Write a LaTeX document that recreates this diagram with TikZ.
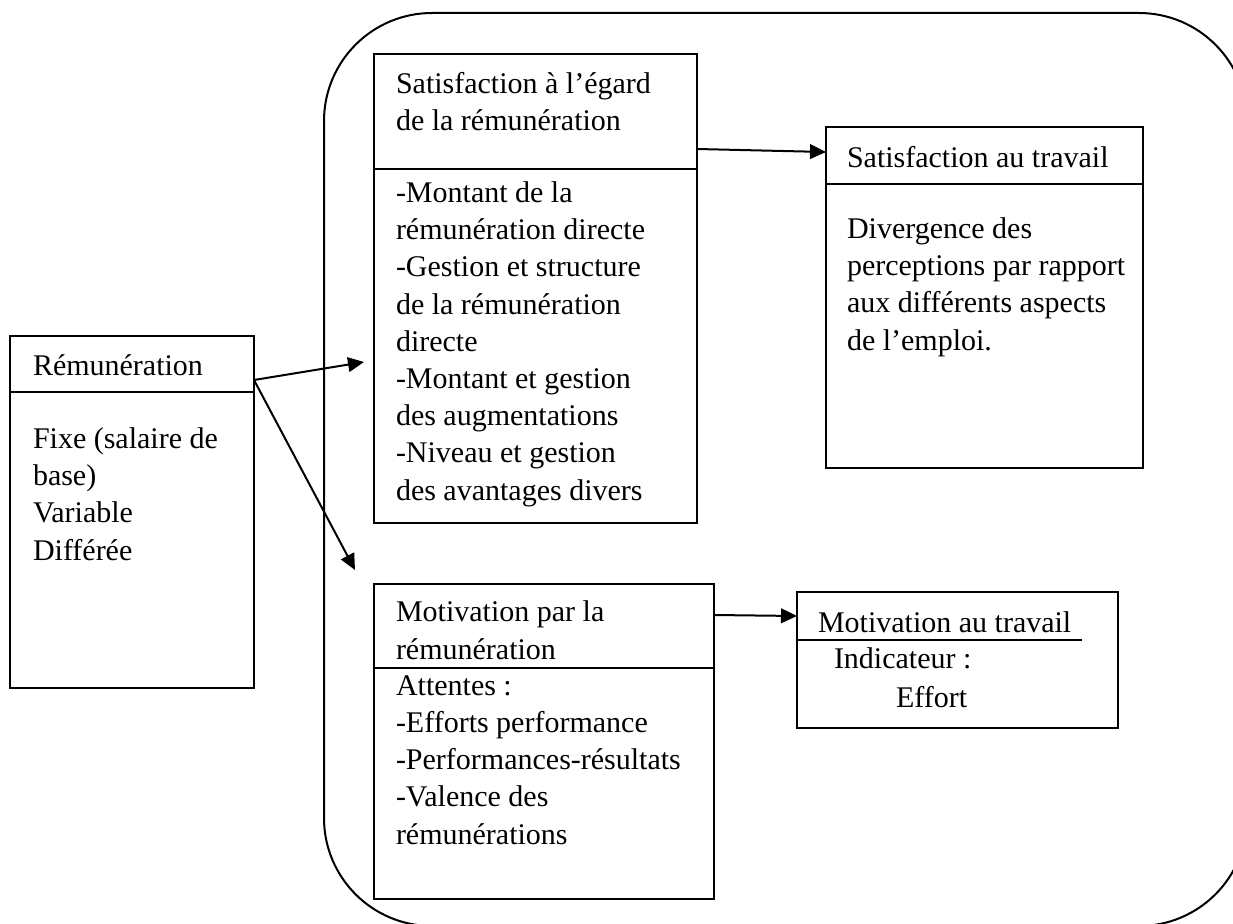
\documentclass[tikz,border=0pt]{standalone}
\usepackage{fontspec}
\setmainfont{Liberation Serif}
\usetikzlibrary{arrows.meta,fit}
\begin{document}
\begin{tikzpicture}[x=0.75pt,y=-0.75pt,
  line width=1.5pt,
  box/.style={draw, inner sep=0pt},
  % multi-line texts are placed by the baseline of their last line
  txt/.style={anchor=base west, align=left, inner sep=0pt,
    font=\fontsize{22.5}{27.9}\selectfont},
  arr/.style={-{Triangle[length=12pt,width=11pt]}, line width=1.5pt}]

\useasboundingbox (0,0) rectangle (1233,924);

% outer rounded frame, partly running off the page
\begin{scope}
  \clip (0,0) rectangle (1233,924);
  \draw[rounded corners=81pt] (324,13) rectangle (1247,926);
\end{scope}

% Rémunération
\node[box, fit={(10,336) (254,392)}] (remhead) {};
\node[box, fit={(10,392) (254,688)}] (rembody) {};
\node[txt] (remtitle) at (32,375) {Rémunération};
\node[txt] (remtext) at (32,560) {Fixe (salaire de\\base)\\Variable\\Différée};

% Satisfaction à l'égard de la rémunération
\node[box, fit={(374,54) (697,169)}] (sathead) {};
\node[box, fit={(374,169) (697,523)}] (satbody) {};
\node[txt] (sattitle) at (395,131) {Satisfaction à l’égard\\de la rémunération};
\node[txt] (sattext) at (395,500) {-Montant de la\\rémunération directe\\-Gestion et structure\\de la rémunération\\directe\\-Montant et gestion\\des augmentations\\-Niveau et gestion\\des avantages divers};

% Satisfaction au travail
\node[box, fit={(826,127) (1143,184)}] (swhead) {};
\node[box, fit={(826,184) (1143,468)}] (swbody) {};
\node[txt] (swtitle) at (846,167) {Satisfaction au travail};
\node[txt] (swtext) at (846,350) {Divergence des\\perceptions par rapport\\aux différents aspects\\de l’emploi.};

% Motivation par la rémunération
\node[box, fit={(374,584) (714,668)}] (mphead) {};
\node[box, fit={(374,668) (714,899)}] (mpbody) {};
\node[txt] (mptitle) at (395,659) {Motivation par la\\rémunération};
\node[txt] (mptext) at (395,844) {Attentes :\\-Efforts performance\\-Performances-résultats\\-Valence des\\rémunérations};

% Motivation au travail
\node[box, fit={(797,592) (1118,728)}] (mw) {};
\node[txt] (mwtitle) at (817,632) {Motivation au travail};
\coordinate (mwl) at (797,640);
\coordinate (mwr) at (1082,640);
\draw (mwl) -- (mwr);
\node[txt] (mwind) at (833,668) {Indicateur :};
\node[txt] (mweff) at (895,707) {Effort};

% connectors
\coordinate (r0) at (254,380);
\coordinate (r1) at (364,362);
\coordinate (r2) at (355,570);
\draw[arr] (r0) -- (r1);
\draw[arr] (r0) -- (r2);

\coordinate (s0) at (697,149);
\coordinate (s1) at (826,152);
\draw[arr] (s0) -- (s1);

\coordinate (m0) at (714,615);
\coordinate (m1) at (797,616);
\draw[arr] (m0) -- (m1);

\end{tikzpicture}
\end{document}
